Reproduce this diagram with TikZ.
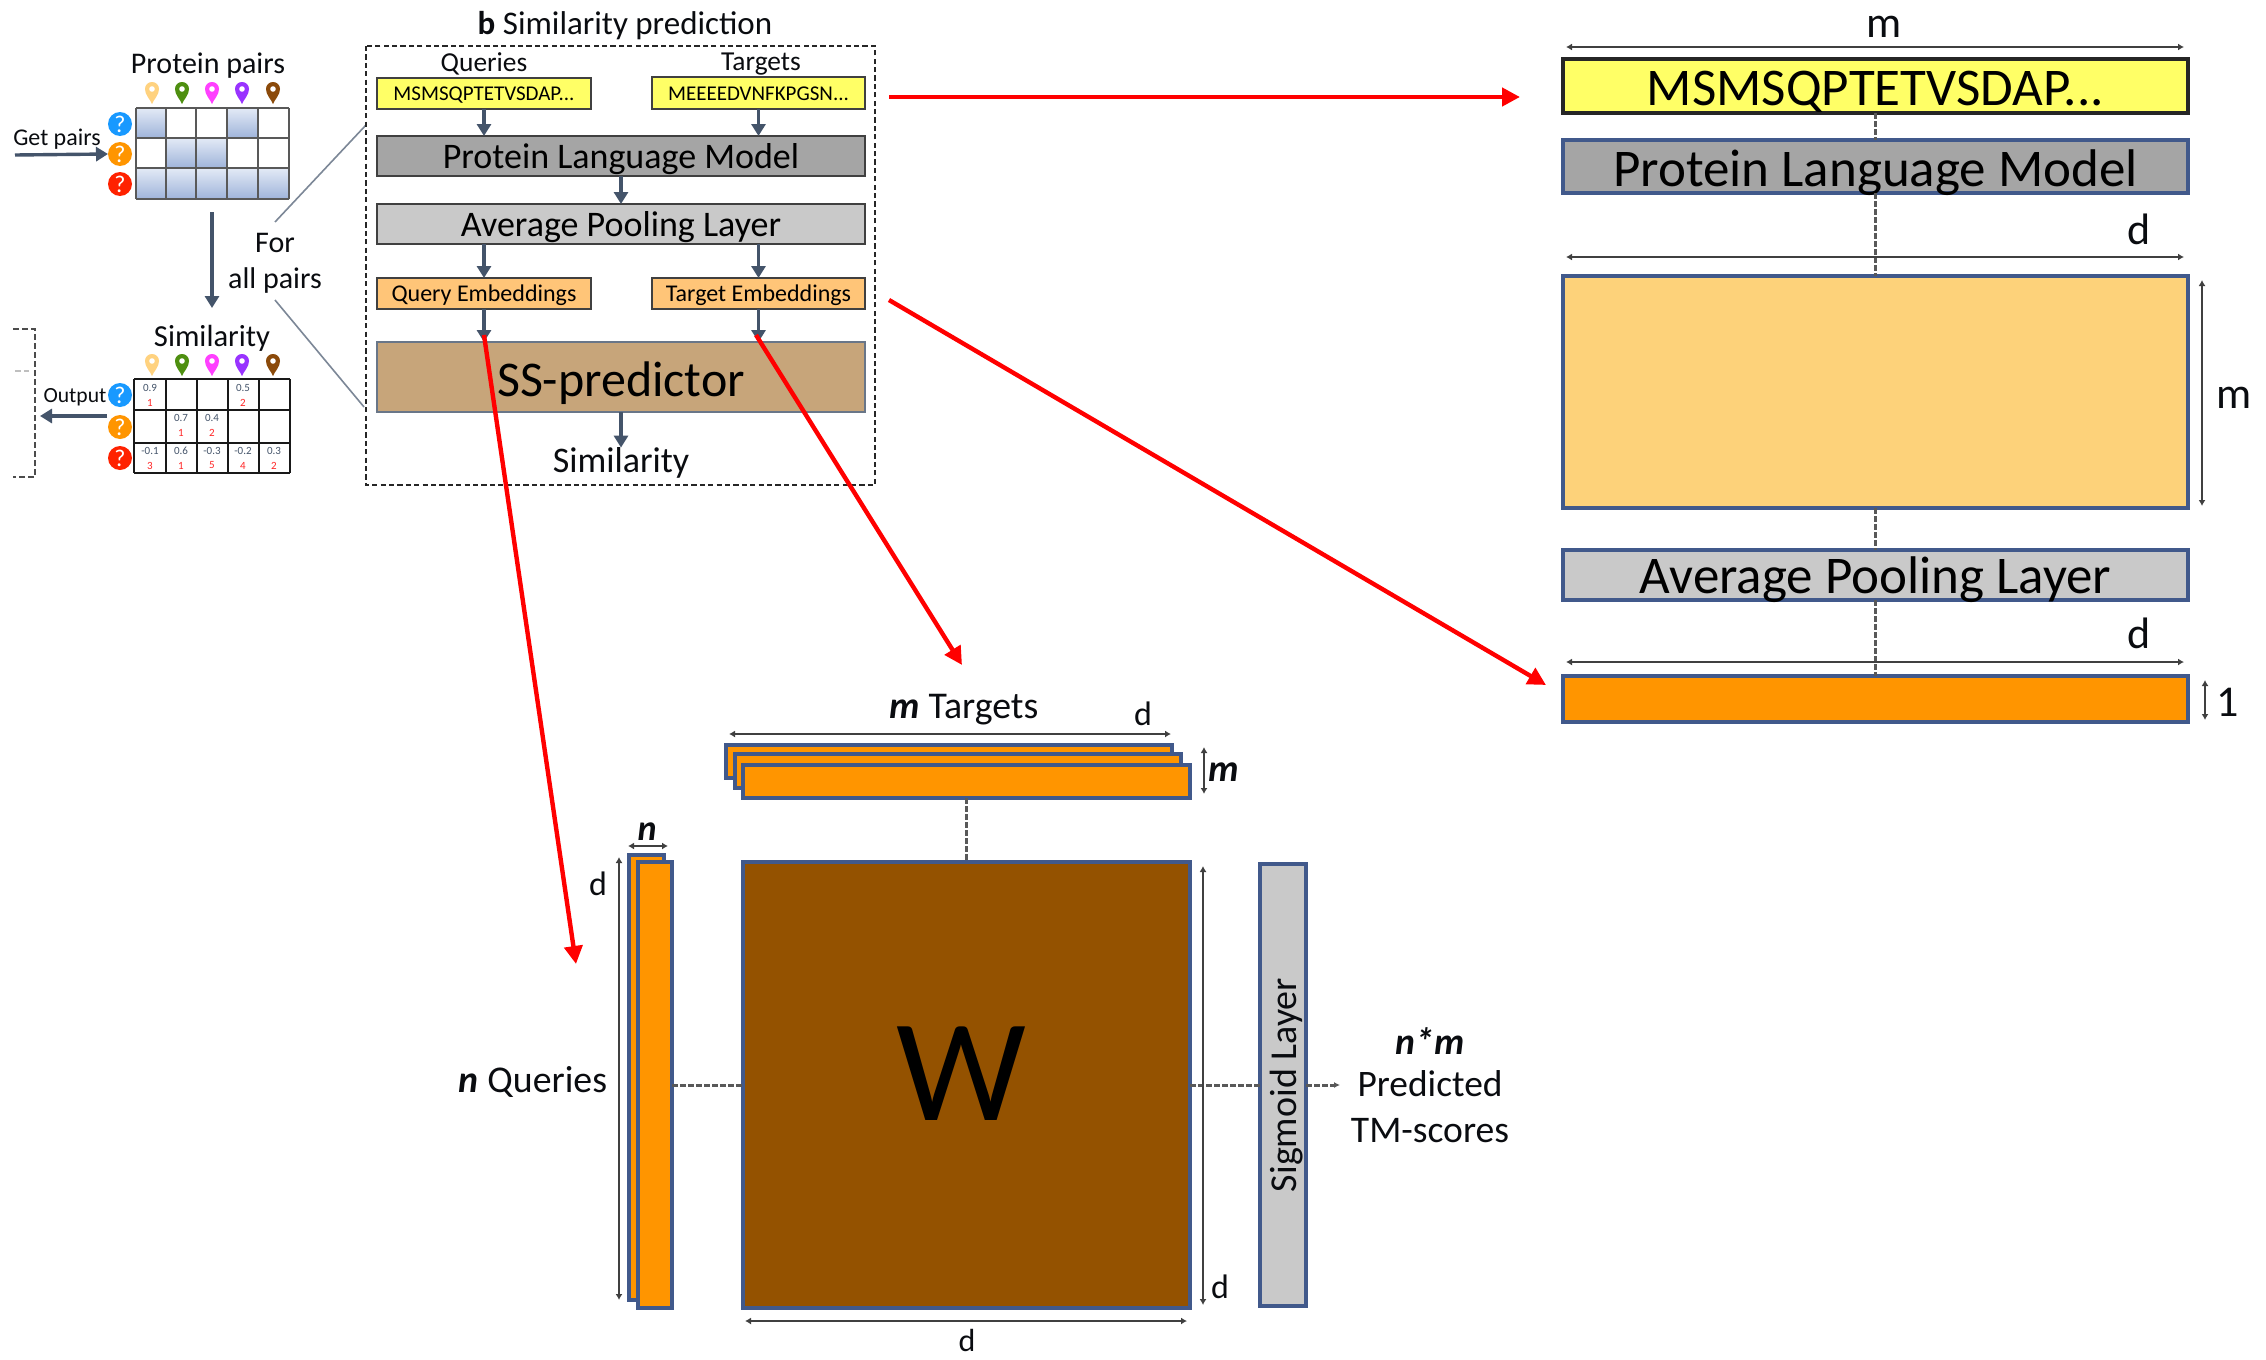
\documentclass[tikz,border=0pt]{standalone}
\usepackage{fontspec}
\setmainfont{Carlito}
\usetikzlibrary{arrows.meta,calc}
\definecolor{slate}{HTML}{44546A}
\definecolor{bluebd}{HTML}{41598B}
\definecolor{yel}{HTML}{FFFF66}
\definecolor{gr1}{HTML}{A5A5A5}
\definecolor{gr2}{HTML}{C9C9C9}
\definecolor{tan1}{HTML}{C7A57A}
\definecolor{org}{HTML}{FF9500}
\definecolor{lorg}{HTML}{FDD27A}
\definecolor{sorg}{HTML}{FFC578}
\definecolor{brn}{HTML}{945200}
\definecolor{gradtop}{HTML}{E3EAF6}
\definecolor{gradbot}{HTML}{9FB4DA}
\definecolor{qblue}{HTML}{1899FF}
\definecolor{qred}{HTML}{FF2200}
\newcommand{\fsz}[1]{\fontsize{#1}{#1}\selectfont}
\newcommand{\bx}[7]{%
  \pgfmathsetmacro\bcx{(#2+#4)/2}\pgfmathsetmacro\bcy{(#3+#5)/2}%
  \pgfmathsetmacro\bw{(#4-#2)*0.5}\pgfmathsetmacro\bh{(#5-#3)*0.5}%
  \node[#6,minimum width=\bw pt,minimum height=\bh pt] (#1) at (\bcx,\bcy) {#7};}
\newcommand{\pin}[3]{%
  \fill[#3,shift={(#1,#2)}] (0,11) .. controls (-2,6) and (-7,2) .. (-7,-4)
   .. controls (-7,-8) and (-4,-11) .. (0,-11) .. controls (4,-11) and (7,-8) .. (7,-4)
   .. controls (7,2) and (2,6) .. (0,11) -- cycle;
  \fill[white,shift={(#1,#2)}] (0,-4) circle[radius=1.4pt];}
\newcommand{\lowered}[2]{\raisebox{-#1pt}[\height][\depth]{#2}}
\tikzset{
  x=0.5pt,y=-0.5pt,
  base/.style={inner sep=0,outer sep=0},
  txt/.style={base,text=black!85!slate},
  smallbox/.style={base,draw=black!75,line width=0.8pt},
  bigbox/.style={base,draw=bluebd,line width=1.6pt},
  bigblack/.style={base,draw=black!85,line width=2pt},
  flow/.style={slate,line width=1.7pt,-{Triangle[length=6pt,width=7pt]}},
  redarrow/.style={red,line width=2.2pt,-{Triangle[length=9pt,width=9pt]}},
  dashconn/.style={black!65,line width=1.5pt,dash pattern=on 3pt off 1pt},
  dim/.style={black!75,line width=1.3pt,{Latex[length=3pt,width=3.5pt]}-{Latex[length=3pt,width=3.5pt]}},
  guide/.style={slate!70,line width=0.8pt},
  qmark/.style={base,circle,minimum size=12pt,text=white,font=\fsz{12}},
  cellv/.style={base,text=slate,font=\fsz{5.5}},
  cellr/.style={base,text=red!85,font=\fsz{5.5}},
}
\begin{document}
\begin{tikzpicture}
\useasboundingbox (0,0) rectangle (2266,1360);
\fill[white] (0,0) rectangle (2266,1360);

% ---------- left: protein pairs
\node[txt,font=\fsz{15}] (ttlpairs) at (208,66) {Protein pairs};
\node[txt,font=\fsz{12}] (getpairs) at (57,139) {Get pairs};
\foreach \x/\c in {152/FFD27F,182/4E8F10,212/FF40FF,242/9933FF,273/8B4A0A}{
  \definecolor{pc}{HTML}{\c}\pin{\x}{93}{pc}\pin{\x}{365}{pc}}
\foreach \xa/\xb/\ya/\yb in {136/166/108/138,227/258/108/138,166/196/138/168,196/227/138/168,
  136/166/168/199,166/196/168/199,196/227/168/199,227/258/168/199,258/289/168/199}{
  \shade[top color=gradtop,bottom color=gradbot] (\xa,\ya) rectangle (\xb,\yb);}
\foreach \x in {136,166,196,227,258,289}{\draw[black!65,line width=0.8pt] (\x,108) -- (\x,199);}
\foreach \y in {108,138,168,199}{\draw[black!65,line width=0.8pt] (136,\y) -- (289,\y);}
\node[qmark,fill=qblue] (qa) at (120,124) {?};
\node[qmark,fill=org] (qb) at (120,154) {?};
\node[qmark,fill=qred] (qc) at (120,184) {?};
\coordinate (getstart) at (15,155);
\draw[flow] (getstart) -- (qb.west);
\node[txt,font=\fsz{15}] (forall) at (275,243) {For};
\node[txt,font=\fsz{15}] (allpairs) at (275,280) {all pairs};
\coordinate (dnA) at (212,212); \coordinate (dnB) at (212,308);
\draw[flow] (dnA) -- (dnB);
\coordinate (g1) at (275,222); \coordinate (g2) at (366,125);
\coordinate (g3) at (275,300); \coordinate (g4) at (364,407);
\draw[guide] (g1) -- (g2);
\draw[guide] (g3) -- (g4);

% ---------- left: similarity grid
\node[txt,font=\fsz{15.3}] (ttlsim) at (212,338) {Similarity};
\foreach \x in {134,166,197,228,259,290}{\draw[black!90,line width=0.9pt] (\x,379) -- (\x,473);}
\foreach \y in {379,410,443,473}{\draw[black!90,line width=0.9pt] (134,\y) -- (290,\y);}
\foreach \i/\x/\y/\v/\r in {a/150/388/0.9/1,b/243/388/0.5/2,c/181/418/0.7/1,d/212/418/0.4/2,
  e/150/451/-0.1/3,f/181/451/0.6/1,g/212/451/-0.3/5,h/243/451/-0.2/4,i/274/451/0.3/2}{
  \node[cellv] (v\i) at (\x,\y) {\v};
  \node[cellr] (r\i) at ($(\x,\y)+(0,14.5)$) {\r};}
\node[qmark,fill=qblue] (sa) at (120,395) {?};
\node[qmark,fill=org] (sb) at (120,427) {?};
\node[qmark,fill=qred] (sc) at (120,458) {?};
\node[txt,font=\fsz{10.8}] (output) at (75,397) {Output};
\coordinate (outS) at (107,416); \coordinate (outE) at (40,416);
\draw[flow] (outS) -- (outE);
\draw[black!70,line width=1pt,dash pattern=on 3pt off 1.5pt] (13,329) -- (35,329) -- (35,477) -- (13,477);
\draw[black!25,line width=0.7pt,dash pattern=on 3pt off 1.5pt] (15,371) -- (29,371);

% ---------- b panel
\draw[black!85,line width=0.8pt,dash pattern=on 2.6pt off 1.6pt] (366,46) rectangle (875,485);
\node[txt,font=\fsz{16.5}] (ttlb) at (625,26) {\textbf{b} Similarity prediction};
\node[txt,font=\fsz{13.7}] (queries) at (484,64) {Queries};
\node[txt,font=\fsz{13.7}] (targets) at (761,64) {Targets};
\bx{yq}{377}{78}{591}{109}{smallbox,fill=yel,font=\fsz{10.5}}{\lowered{0.6}{MSMSQPTETVSDAP...}}
\bx{yt}{652}{77}{865}{109}{smallbox,fill=yel,font=\fsz{10.5}}{\lowered{0.6}{MEEEEDVNFKPGSN...}}
\bx{plm}{377}{136}{865}{176}{smallbox,fill=gr1,font=\fsz{18}}{\lowered{1.5}{Protein Language Model}}
\bx{apl}{377}{204}{865}{244}{smallbox,fill=gr2,font=\fsz{18}}{\lowered{1.5}{Average Pooling Layer}}
\bx{eq}{377}{278}{591}{309}{smallbox,fill=sorg,font=\fsz{12}}{\lowered{1}{Query Embeddings}}
\bx{et}{652}{278}{865}{309}{smallbox,fill=sorg,font=\fsz{12}}{\lowered{1}{Target Embeddings}}
\bx{ss}{377}{342}{865}{412}{base,draw=slate!80,line width=0.9pt,fill=tan1,font=\fsz{25}}{\lowered{3}{SS-predictor}}
\node[txt,font=\fsz{18}] (simout) at (621,463) {Similarity};
\draw[flow] (yq.south) -- (yq.south |- plm.north);
\draw[flow] (yt.south) -- (yt.south |- plm.north);
\draw[flow] (plm.south) -- (apl.north);
\draw[flow] (apl.south -| yq.south) -- (eq.north);
\draw[flow] (apl.south -| yt.south) -- (et.north);
\draw[flow] (eq.south) -- (eq.south |- ss.north);
\draw[flow] (et.south) -- (et.south |- ss.north);
\draw[flow] (ss.south) -- (simout.north);

% ---------- right panel
\bx{ly}{1563}{59}{2188}{113}{bigblack,fill=yel,font=\fsz{26.5}}{\lowered{2.8}{MSMSQPTETVSDAP...}}
\bx{lplm}{1563}{140}{2188}{193}{bigbox,fill=gr1,font=\fsz{26.5}}{\lowered{3}{Protein Language Model}}
\bx{lorg}{1563}{276}{2188}{508}{bigbox,fill=lorg}{}
\bx{lapl}{1563}{550}{2188}{600}{bigbox,fill=gr2,font=\fsz{26.5}}{\lowered{2.2}{Average Pooling Layer}}
\bx{lemb}{1563}{676}{2188}{722}{bigbox,fill=org}{}
\draw[dashconn] (ly.south) -- (lplm.north);
\draw[dashconn] (lplm.south) -- (lorg.north);
\draw[dashconn] (lorg.south) -- (lapl.north);
\draw[dashconn] (lapl.south) -- (lemb.north);
\coordinate (d1a) at (1566,47); \coordinate (d1b) at (2184,47);
\draw[dim] (d1a) -- (d1b);
\node[txt,font=\fsz{22}] (lm) at (1884,27) {m};
\coordinate (d2a) at (1566,257); \coordinate (d2b) at (2184,257);
\draw[dim] (d2a) -- (d2b);
\node[txt,font=\fsz{22}] (ld1) at (2139,229) {d};
\coordinate (d3a) at (2202,280); \coordinate (d3b) at (2202,506);
\draw[dim] (d3a) -- (d3b);
\node[txt,font=\fsz{22}] (lm2) at (2234,398) {m};
\coordinate (d4a) at (1566,662); \coordinate (d4b) at (2184,662);
\draw[dim] (d4a) -- (d4b);
\node[txt,font=\fsz{22}] (ld2) at (2139,633) {d};
\coordinate (d5a) at (2205,680); \coordinate (d5b) at (2205,720);
\draw[dim] (d5a) -- (d5b);
\node[txt,font=\fsz{22}] (lone) at (2228,702) {1};

% ---------- bottom panel
\bx{st1}{726}{745}{1172}{778}{bigbox,fill=org}{}
\bx{st2}{735}{754}{1181}{788}{bigbox,fill=org}{}
\bx{st3}{743}{765}{1190}{798}{bigbox,fill=org}{}
\bx{qa1}{629}{855}{664}{1300}{bigbox,fill=org}{}
\bx{qa2}{638}{862}{672}{1308}{bigbox,fill=org}{}
\bx{wm}{743}{862}{1190}{1308}{bigbox,fill=brn}{}
\node[base,text=black,font=\fsz{73}] (wlabel) at (961,1074) {W};
\bx{sig}{1260}{864}{1306}{1306}{bigbox,fill=gr2}{}
\node[txt,rotate=90,font=\fsz{19}] (sigt) at (1287,1085) {Sigmoid Layer};
\draw[dashconn] (st3.south) -- (wm.north);
\draw[dashconn] (qa2.east) -- (wm.west);
\draw[dashconn] (wm.east) -- (sig.west);
\coordinate (scoreend) at (1340,1085);
\draw[dashconn,-{Latex[length=3pt,width=3pt]}] (sig.east) -- (scoreend);
\coordinate (d6a) at (729,734); \coordinate (d6b) at (1171,734);
\draw[dim] (d6a) -- (d6b);
\node[txt,font=\fsz{18.9}] (mtarg) at (964,710) {\textbf{\textit{m}} Targets};
\node[txt,font=\fsz{17}] (td) at (1143,714) {d};
\coordinate (d7a) at (1204,747); \coordinate (d7b) at (1204,794);
\draw[dim] (d7a) -- (d7b);
\node[txt,font=\fsz{19}] (tm) at (1224,772) {\textbf{\textit{m}}};
\coordinate (d8a) at (1203,866); \coordinate (d8b) at (1203,1305);
\draw[dim] (d8a) -- (d8b);
\node[txt,font=\fsz{17}] (rd) at (1220,1287) {d};
\coordinate (d9a) at (745,1321); \coordinate (d9b) at (1187,1321);
\draw[dim] (d9a) -- (d9b);
\node[txt,font=\fsz{16}] (bd) at (967,1340) {d};
\coordinate (d10a) at (619,857); \coordinate (d10b) at (619,1300);
\draw[dim] (d10a) -- (d10b);
\node[txt,font=\fsz{17}] (ld) at (598,884) {d};
\coordinate (d11a) at (628,846); \coordinate (d11b) at (668,846);
\draw[dim] (d11a) -- (d11b);
\node[txt,font=\fsz{18}] (tn) at (647,832) {\textbf{\textit{n}}};
\node[txt,font=\fsz{18.9}] (nq) at (533,1082) {\textbf{\textit{n}} Queries};
\node[txt,font=\fsz{18.8}] (nm) at (1430,1041) {\textbf{\textit{n*m}}};
\node[txt,font=\fsz{18.7}] (pred) at (1430,1084) {Predicted};
\node[txt,font=\fsz{18.8}] (tms) at (1430,1131) {TM-scores};

% ---------- red arrows
\coordinate (r1a) at (889,97); \coordinate (r1b) at (1520,97);
\coordinate (r2a) at (889,300); \coordinate (r2b) at (1546,685);
\coordinate (r3a) at (484,335); \coordinate (r3b) at (576,964);
\coordinate (r4a) at (756,335); \coordinate (r4b) at (962,665);
\draw[redarrow] (r1a) -- (r1b);
\draw[redarrow] (r2a) -- (r2b);
\draw[redarrow] (r3a) -- (r3b);
\draw[redarrow] (r4a) -- (r4b);
\end{tikzpicture}
\end{document}
